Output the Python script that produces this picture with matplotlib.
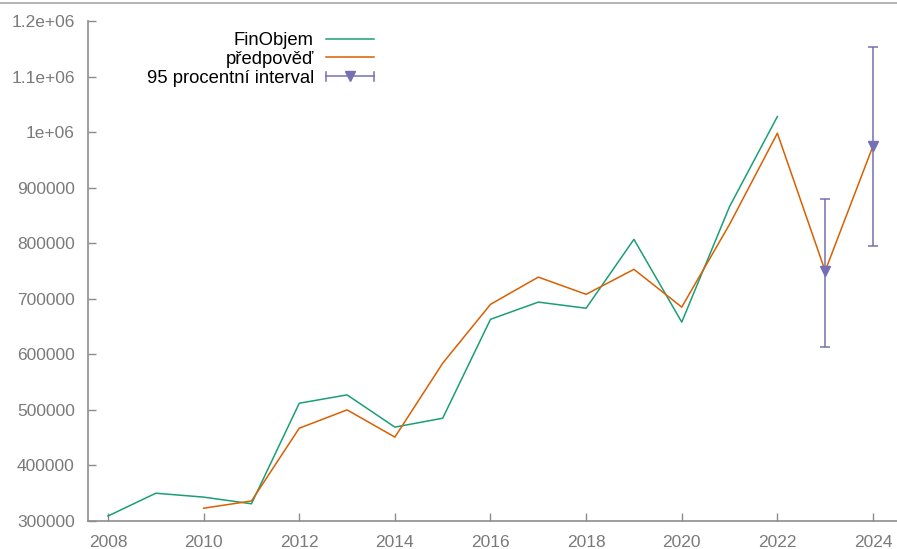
import matplotlib
matplotlib.use("Agg")
import matplotlib.pyplot as plt
from matplotlib.lines import Line2D
from matplotlib.legend_handler import HandlerBase

years_obs = [2008, 2009, 2010, 2011, 2012, 2013, 2014, 2015, 2016, 2017, 2018, 2019, 2020, 2021, 2022]
fin_objem = [309000, 350000, 343000, 331000, 512000, 527000, 469000, 485000, 663000, 694000, 683000, 807000, 658000, 866000, 1028000]

years_fc = [2010, 2011, 2012, 2013, 2014, 2015, 2016, 2017, 2018, 2019, 2020, 2021, 2022, 2023, 2024]
forecast = [323000, 336000, 467000, 500000, 451000, 584000, 690000, 739000, 708000, 753000, 685000, 834000, 998000, 750000, 975000]

years_ci = [2023, 2024]
ci_center = [750000, 975000]
ci_low = [613000, 795000]
ci_high = [879000, 1154000]

x_ticks = [2008, 2010, 2012, 2014, 2016, 2018, 2020, 2022, 2024]
y_ticks = [300000, 400000, 500000, 600000, 700000, 800000, 900000, 1000000, 1100000, 1200000]
y_tick_labels = ["300000", "400000", "500000", "600000", "700000", "800000", "900000", "1e+06", "1.1e+06", "1.2e+06"]

labels = ["FinObjem", "předpověď", "95 procentní interval"]
c_green, c_orange, c_purple = "#1b9e77", "#d95f02", "#7570b3"
gray = "#8c8c8c"

plt.rcParams["font.family"] = ["Liberation Sans", "DejaVu Sans"]

fig = plt.figure(figsize=(8.97, 5.49), dpi=100)
ax = fig.add_axes([88/897, 1 - 521/549, 1 - 88/897, (521 - 21)/549])

ax.plot(years_obs, fin_objem, color=c_green, lw=1.1)
ax.plot(years_fc, forecast, color=c_orange, lw=1.1)
yerr = [[c - l for c, l in zip(ci_center, ci_low)], [h - c for c, h in zip(ci_center, ci_high)]]
ax.errorbar(years_ci, ci_center, yerr=yerr, fmt="v", color=c_purple, ms=7,
            elinewidth=1.1, capsize=3.3, capthick=1.1, lw=0)

ax.set_xlim(2008 - 20/47.8, 2024 + 24/47.8)
ax.set_ylim(300000, 1200000)
ax.set_xticks(x_ticks)
ax.set_xticklabels([str(t) for t in x_ticks])
ax.set_yticks(y_ticks)
ax.set_yticklabels(y_tick_labels)

for s in ["top", "right"]:
    ax.spines[s].set_visible(False)
for s in ["left", "bottom"]:
    ax.spines[s].set_color(gray)
    ax.spines[s].set_linewidth(1.2)
ax.tick_params(direction="in", length=6, width=1, color=gray, labelcolor="#7a7a7a",
               labelsize=12.5)
ax.tick_params(axis="y", pad=9.5)
ax.tick_params(axis="x", pad=10)


class ErrHandler(HandlerBase):
    def create_artists(self, legend, orig_handle, xdescent, ydescent, width, height, fontsize, trans):
        y = height / 2 - ydescent
        x0, x1 = -xdescent, -xdescent + width
        line = Line2D([x0, x1], [y, y], color=c_purple, lw=1.1, transform=trans)
        c1 = Line2D([x0, x0], [y - 3.3, y + 3.3], color=c_purple, lw=1.1, transform=trans)
        c2 = Line2D([x1, x1], [y - 3.3, y + 3.3], color=c_purple, lw=1.1, transform=trans)
        m = Line2D([(x0 + x1) / 2], [y], marker="v", color=c_purple, ms=7, lw=0, transform=trans)
        return [line, c1, c2, m]


class ErrProxy:
    pass


h1 = Line2D([], [], color=c_green, lw=1.1)
h2 = Line2D([], [], color=c_orange, lw=1.1)
h3 = ErrProxy()
leg = ax.legend([h1, h2, h3], labels, handler_map={ErrProxy: ErrHandler()},
                loc="upper right", bbox_to_anchor=(374/897, 1 - 32/549), bbox_transform=fig.transFigure,
                frameon=False, markerfirst=False, handlelength=2.6, handletextpad=0.65,
                labelspacing=0.1, borderpad=0, borderaxespad=0,
                prop={"family": "Liberation Sans", "size": 13.3})

fig.add_artist(Line2D([0, 1], [1 - 3/549, 1 - 3/549], color="#a8a8a8", lw=1.2, transform=fig.transFigure))

fig.savefig("out.png", dpi=100)
